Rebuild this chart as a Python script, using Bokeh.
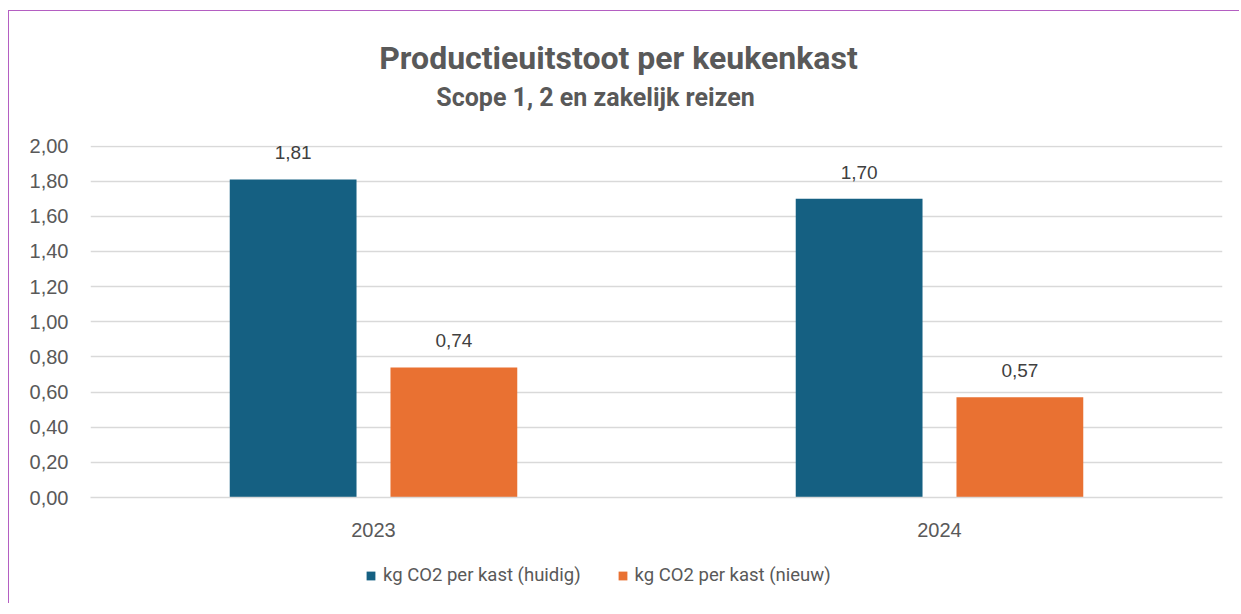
from bokeh.plotting import figure
from bokeh.layouts import column
from bokeh.models import (FactorRange, Range1d, ColumnDataSource, Legend, LegendItem,
                          Label, FixedTicker, CustomJSTickFormatter)
from bokeh.transform import dodge
from bokeh.core.properties import value
from bokeh.embed import file_html
from bokeh.resources import INLINE

years = ["2023", "2024"]
huidig = [1.81, 1.70]
nieuw = [0.74, 0.57]
series_names = ["kg CO2 per kast (huidig)", "kg CO2 per kast (nieuw)"]
y_ticks = [0.0, 0.2, 0.4, 0.6, 0.8, 1.0, 1.2, 1.4, 1.6, 1.8, 2.0]
title_text = "Productieuitstoot per keukenkast"
subtitle_text = "Scope 1, 2 en zakelijk reizen"

BLUE = "#156082"
ORANGE = "#E97132"
TXT = "#595959"
FONT = "Liberation Sans"
TFONT = "Roboto"
W = 1230
BL, BR = 81, 17

def fmt(v):
    return f"{v:.2f}".replace(".", ",")

def strip(h):
    f = figure(width=W, height=h, output_backend="svg", toolbar_location=None,
               x_range=Range1d(90, 1222), y_range=Range1d(0, h),
               min_border_left=BL, min_border_right=BR, min_border_top=0, min_border_bottom=0)
    f.axis.visible = False
    f.grid.visible = False
    f.outline_line_color = None
    f.border_fill_color = "white"
    return f

# ---- title strip ----
pt = strip(114)
pt.add_layout(Label(x=618, y=68, text=title_text, text_align="center",
                    text_baseline="alphabetic", text_font=TFONT, text_font_style="bold",
                    text_font_size="32px", text_color=TXT))
pt.add_layout(Label(x=595, y=28, text=subtitle_text, text_align="center",
                    text_baseline="alphabetic", text_font=TFONT, text_font_style="bold",
                    text_font_size="25px", text_color=TXT))

# ---- chart ----
src = ColumnDataSource(dict(
    year=years, huidig=huidig, nieuw=nieuw,
    huidig_lbl=[fmt(v) for v in huidig], nieuw_lbl=[fmt(v) for v in nieuw],
))

p = figure(x_range=FactorRange(factors=years), y_range=Range1d(0, 2.003),
           width=W, height=417, output_backend="svg", toolbar_location=None,
           min_border_left=BL, min_border_right=BR, min_border_top=20, min_border_bottom=45)
p.outline_line_color = None
p.background_fill_color = "white"
p.border_fill_color = "white"

off = 0.142
bw = 0.224
p.vbar(x=dodge("year", -off, range=p.x_range), top="huidig", width=bw, source=src,
       fill_color=BLUE, line_color=None)
p.vbar(x=dodge("year", off, range=p.x_range), top="nieuw", width=bw, source=src,
       fill_color=ORANGE, line_color=None)

for col, o in (("huidig", -off), ("nieuw", off)):
    p.text(x=dodge("year", o, range=p.x_range), y=col, text=col + "_lbl", source=src,
           text_align="center", text_baseline="bottom", y_offset=-20,
           text_font=value(FONT), text_font_size="19px", text_color="#404040")

p.yaxis.ticker = FixedTicker(ticks=y_ticks)
p.yaxis.formatter = CustomJSTickFormatter(code="return tick.toFixed(2).replace('.', ',');")
p.yaxis.axis_line_color = None
p.yaxis.major_tick_line_color = None
p.yaxis.minor_tick_line_color = None
p.yaxis.major_label_standoff = 16
p.yaxis.major_label_text_font = FONT
p.yaxis.major_label_text_font_size = "20px"
p.yaxis.major_label_text_color = TXT

p.xaxis.axis_line_color = "#d9d9d9"
p.xaxis.axis_line_width = 1.5
p.xaxis.major_tick_line_color = None
p.xaxis.minor_tick_line_color = None
p.xaxis.major_label_standoff = 19
p.xaxis.major_label_text_font = FONT
p.xaxis.major_label_text_font_size = "20px"
p.xaxis.major_label_text_color = TXT

p.xgrid.grid_line_color = None
p.ygrid.grid_line_color = "#d9d9d9"
p.ygrid.grid_line_width = 1.5

# ---- legend strip ----
pl = strip(61)
l1 = pl.vbar(x=[-100], top=[0], width=1, fill_color=BLUE, line_color=None)
l2 = pl.vbar(x=[-100], top=[0], width=1, fill_color=ORANGE, line_color=None)
legend = Legend(items=[LegendItem(label=series_names[0], renderers=[l1]),
                       LegendItem(label=series_names[1], renderers=[l2])],
                orientation="horizontal", location=(275, 17),
                glyph_width=11, glyph_height=11, label_standoff=7, spacing=36,
                label_text_font=TFONT, label_text_font_size="18.5px",
                label_text_color=TXT, border_line_color=None, background_fill_alpha=0,
                margin=0, padding=0)
pl.add_layout(legend)

layout = column(pt, p, pl, spacing=0,
                styles={"margin-left": "8px", "margin-top": "10px",
                        "border-top": "1px solid #b45fc2", "border-left": "1px solid #b45fc2"})

open("out.html", "w").write(file_html(layout, INLINE))
